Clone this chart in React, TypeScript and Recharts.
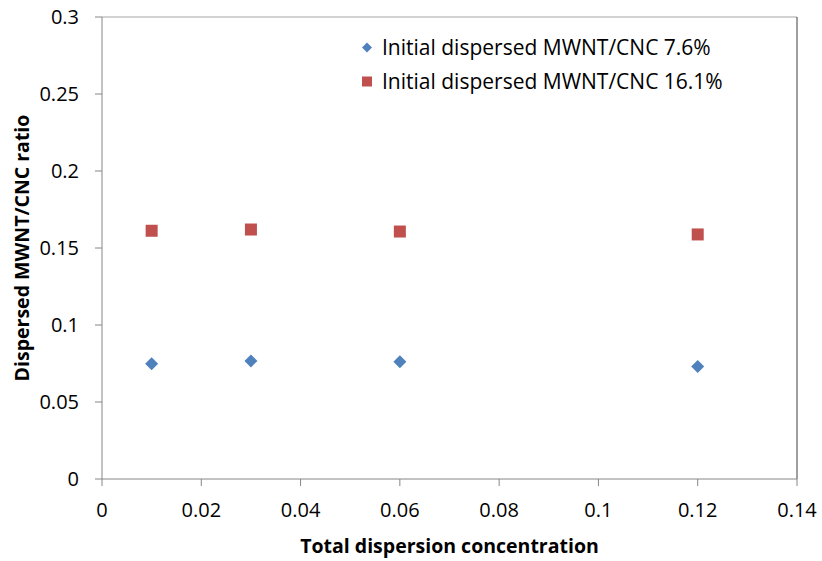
import React from 'react';
import { ScatterChart, Scatter, XAxis, YAxis, ReferenceLine } from 'recharts';

const seriesNames = ['Initial dispersed MWNT/CNC 7.6%', 'Initial dispersed MWNT/CNC 16.1%'];
const concentrations = [0.01, 0.03, 0.06, 0.12];
const ratios76 = [0.0748, 0.0767, 0.0762, 0.0730];
const ratios161 = [0.1612, 0.1620, 0.1607, 0.1588];
const xTicks = [0, 0.02, 0.04, 0.06, 0.08, 0.1, 0.12, 0.14];
const yTicks = [0, 0.05, 0.1, 0.15, 0.2, 0.25, 0.3];

const data76 = concentrations.map((x, i) => ({ x, y: ratios76[i] }));
const data161 = concentrations.map((x, i) => ({ x, y: ratios161[i] }));

const BLUE = '#4F81BD';
const RED = '#C0504D';
const FONT = '"Open Sans", sans-serif';

const Diamond = (props: any) => {
  const { cx, cy } = props;
  const r = 6.5;
  return <polygon points={`${cx},${cy - r} ${cx + r},${cy} ${cx},${cy + r} ${cx - r},${cy}`} fill={BLUE} />;
};
const Square = (props: any) => {
  const { cx, cy } = props;
  const s = 12;
  return <rect x={cx - s / 2} y={cy - s / 2} width={s} height={s} fill={RED} />;
};

const fmt = (v: number) => String(Math.round(v * 1000) / 1000);

const LegendBox = () => (
  <div style={{ position: 'absolute', left: 362, top: 30, fontFamily: FONT, fontSize: 21, color: '#000', lineHeight: '34px', whiteSpace: 'nowrap' }}>
    <div style={{ display: 'flex', alignItems: 'center' }}>
      <svg width={11} height={11} style={{ marginRight: 9 }}>
        <polygon points="5,0.5 10,5.5 5,10.5 0,5.5" fill={BLUE} />
      </svg>
      <span>{seriesNames[0]}</span>
    </div>
    <div style={{ display: 'flex', alignItems: 'center' }}>
      <svg width={11} height={11} style={{ marginRight: 9 }}>
        <rect x={0} y={0.5} width={10} height={10} fill={RED} />
      </svg>
      <span>{seriesNames[1]}</span>
    </div>
  </div>
);

export default function App() {
  return (
    <div style={{ position: 'absolute', left: 0, top: 0, width: 822, height: 561, background: '#fff' }}>
      <ScatterChart width={822} height={561} margin={{ top: 17, right: 25, bottom: 0, left: 0 }}>
        <XAxis
          type="number"
          dataKey="x"
          domain={[0, 0.14]}
          ticks={xTicks}
          tickFormatter={fmt}
          interval={0}
          height={82}
          tickSize={7}
          tickMargin={17}
          stroke="#868686"
          tick={{ fill: '#000', fontSize: 20, fontFamily: FONT }}
          label={{ value: 'Total dispersion concentration', position: 'insideBottom', offset: 8, fill: '#000', fontSize: 19.5, fontWeight: 'bold', fontFamily: FONT }}
        />
        <YAxis
          type="number"
          dataKey="y"
          domain={[0, 0.3]}
          ticks={yTicks}
          tickFormatter={fmt}
          interval={0}
          width={102}
          tickSize={7}
          tickMargin={16}
          stroke="#868686"
          tick={{ fill: '#000', fontSize: 20, fontFamily: FONT }}
          label={{ value: 'Dispersed MWNT/CNC ratio', angle: -90, position: 'insideLeft', offset: 22, fill: '#000', fontSize: 19.5, fontWeight: 'bold', fontFamily: FONT, style: { textAnchor: 'middle' } }}
        />
        <ReferenceLine y={0.3} stroke="#A6A6A6" strokeWidth={1} />
        <ReferenceLine x={0.14} stroke="#404040" strokeWidth={1} />
        <Scatter name={seriesNames[0]} data={data76} shape={<Diamond />} isAnimationActive={false} />
        <Scatter name={seriesNames[1]} data={data161} shape={<Square />} isAnimationActive={false} />
      </ScatterChart>
      <LegendBox />
    </div>
  );
}
